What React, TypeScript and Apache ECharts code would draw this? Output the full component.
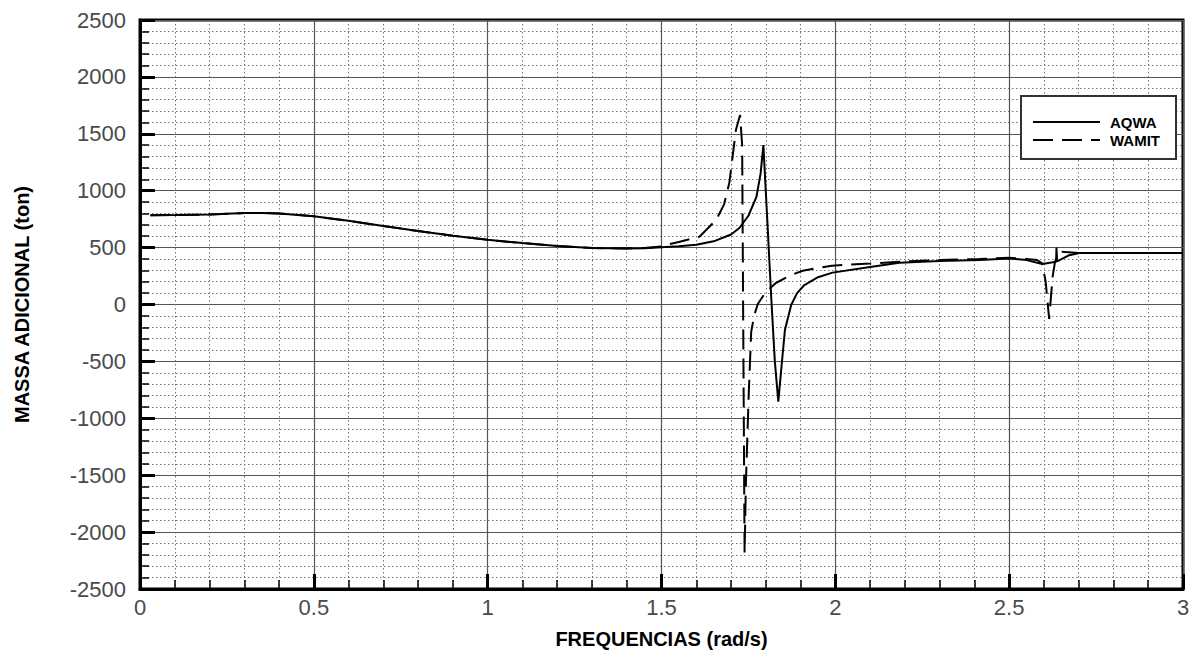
import React, { useEffect, useRef } from "react";
import * as echarts from "echarts";

const aqwaX = [0.03, 0.1, 0.2, 0.3, 0.35, 0.4, 0.5, 0.6, 0.7, 0.8, 0.9, 1.0, 1.1, 1.2, 1.3, 1.4, 1.45, 1.5, 1.55, 1.6, 1.65, 1.7, 1.724, 1.75, 1.773, 1.785, 1.793, 1.805, 1.816, 1.826, 1.836, 1.845, 1.855, 1.873, 1.89, 1.911, 1.95, 1.992, 2.1, 2.184, 2.3, 2.414, 2.5, 2.55, 2.595, 2.635, 2.636, 2.638, 2.67, 2.701, 3.0];
const aqwaY = [785, 786, 790, 803, 805, 800, 775, 735, 690, 645, 605, 568, 540, 515, 497, 492, 495, 502, 512, 525, 555, 615, 672, 780, 945, 1150, 1401, 700, 40, -500, -854, -550, -224, -4, 100, 171, 240, 280, 330, 367, 383, 391, 405, 390, 356, 375, 500, 378, 430, 452, 452];

const wamitX = [0.03, 0.1, 0.2, 0.3, 0.35, 0.4, 0.5, 0.6, 0.7, 0.8, 0.9, 1.0, 1.1, 1.2, 1.3, 1.4, 1.45, 1.5, 1.523, 1.55, 1.609, 1.657, 1.68, 1.695, 1.714, 1.726, 1.732, 1.739, 1.743, 1.751, 1.758, 1.767, 1.777, 1.8, 1.829, 1.87, 1.906, 1.99, 2.1, 2.184, 2.3, 2.414, 2.5, 2.55, 2.58, 2.595, 2.605, 2.615, 2.625, 2.632, 2.645, 2.7, 3.0];
const wamitY = [785, 786, 790, 803, 805, 800, 775, 735, 690, 645, 605, 568, 540, 515, 497, 492, 497, 510, 530, 550, 596, 742, 880, 1067, 1533, 1665, 1400, -2184, -1542, -778, -239, -92, 4, 110, 189, 255, 297, 341, 360, 376, 390, 400, 410, 400, 391, 362, 200, -127, 245, 376, 464, 452, 452];

const seriesNames = ["AQWA", "WAMIT"];
const xTitle = "FREQUENCIAS (rad/s)";
const yTitle = "MASSA ADICIONAL (ton)";

export default function App() {
  const ref = useRef<HTMLDivElement>(null);
  useEffect(() => {
    if (!ref.current) return;
    const chart = echarts.init(ref.current, undefined, { renderer: "svg" });
    const pairs = (xs: number[], ys: number[]) => xs.map((x, i) => [x, ys[i]]);
    const font = "'Liberation Sans', Arial, Helvetica, sans-serif";
    const axisCommon = {
      axisLine: { show: true, onZero: false, lineStyle: { color: "#000", width: 3 } },
      axisTick: { show: true, inside: true, length: 15, lineStyle: { color: "#000", width: 3 } },
      minorTick: { show: true, splitNumber: 5, length: 9, lineStyle: { color: "#000", width: 1.5 } },
      splitLine: { show: true, lineStyle: { color: "#555", width: 1.2 } },
      minorSplitLine: { show: true, lineStyle: { color: "#777", width: 1, type: [1.5, 2.5] } },
      axisLabel: { color: "#4a4a4a", fontSize: 22, fontFamily: font, formatter: (v: number) => String(v) },
    };
    chart.setOption({
      animation: false,
      backgroundColor: "#fff",
      grid: { left: 140, top: 20, right: 16, bottom: 67, show: true, borderColor: "#000", borderWidth: 3, backgroundColor: "transparent" },
      xAxis: {
        type: "value", min: 0, max: 3, interval: 0.5,
        ...axisCommon,
        axisLabel: { ...axisCommon.axisLabel, margin: 7 },
        name: xTitle, nameLocation: "middle", nameGap: 40,
        nameTextStyle: { fontSize: 20, fontWeight: "bold", color: "#000", fontFamily: font },
      },
      yAxis: {
        type: "value", min: -2500, max: 2500, interval: 500,
        ...axisCommon,
        axisLabel: { ...axisCommon.axisLabel, margin: 14 },
        name: yTitle, nameLocation: "middle", nameGap: 108, nameRotate: 90,
        nameTextStyle: { fontSize: 20, fontWeight: "bold", color: "#000", fontFamily: font },
      },
      series: [
        {
          name: seriesNames[0], type: "line", data: pairs(aqwaX, aqwaY), showSymbol: false, symbol: "none",
          lineStyle: { color: "#000", width: 2 }, z: 5,
        },
        {
          name: seriesNames[1], type: "line", data: pairs(wamitX, wamitY), showSymbol: false, symbol: "none",
          lineStyle: { color: "#000", width: 2, type: [20, 9] }, z: 5,
        },
      ],
      graphic: [
        { type: "rect", shape: { x: 1021, y: 96, width: 155, height: 63 }, style: { fill: "#fff", stroke: "#333", lineWidth: 2 }, z: 10 },
        { type: "line", shape: { x1: 1033, y1: 122, x2: 1100, y2: 122 }, style: { stroke: "#000", lineWidth: 2 }, z: 11 },
        { type: "line", shape: { x1: 1033, y1: 140, x2: 1100, y2: 140 }, style: { stroke: "#000", lineWidth: 2, lineDash: [20, 9] }, z: 11 },
        { type: "text", x: 1110, y: 122, style: { text: seriesNames[0], font: `bold 15px ${font}`, fill: "#000", verticalAlign: "middle" }, z: 11 },
        { type: "text", x: 1110, y: 140, style: { text: seriesNames[1], font: `bold 15px ${font}`, fill: "#000", verticalAlign: "middle" }, z: 11 },
      ],
    });
    return () => chart.dispose();
  }, []);
  return <div ref={ref} style={{ position: "fixed", left: 0, top: 0, width: 1199, height: 656 }} />;
}
